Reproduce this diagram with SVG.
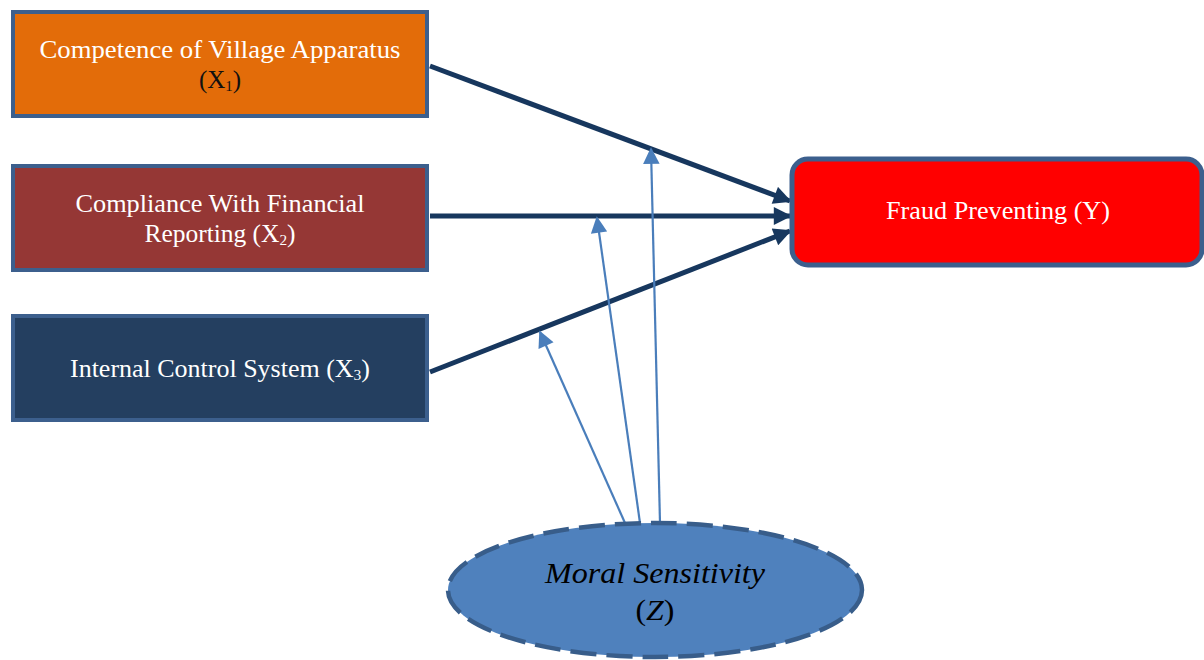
<svg xmlns="http://www.w3.org/2000/svg" width="1204" height="660" viewBox="0 0 1204 660">
<style>
.box{stroke:#3c5f8d;stroke-width:4}
.t{font-family:"Liberation Serif","Times New Roman",serif;font-size:25px;fill:#ffffff;text-anchor:middle}
.sub{font-size:15px}
.main{stroke:#17375e;stroke-width:5;fill:none}
.mod{stroke:#4a7ebb;stroke-width:2.2;fill:none}
</style>
<defs>
<marker id="ah" viewBox="0 0 10 10" refX="9" refY="5" markerWidth="4" markerHeight="3.6" markerUnits="strokeWidth" orient="auto">
<path d="M0,0 L10,5 L0,10 z" fill="#17375e"/>
</marker>
<marker id="ahm" viewBox="0 0 10 10" refX="9" refY="5" markerWidth="8" markerHeight="7.5" markerUnits="strokeWidth" orient="auto">
<path d="M0,0 L10,5 L0,10 z" fill="#4a7ebb"/>
</marker>
</defs>
<rect width="1204" height="660" fill="#ffffff"/>
<g id="connectors">
<line class="main" x1="430" y1="66" x2="790" y2="201" marker-end="url(#ah)"/>
<line class="main" x1="430" y1="216" x2="790" y2="216" marker-end="url(#ah)"/>
<line class="main" x1="430" y1="372" x2="790" y2="231" marker-end="url(#ah)"/>
<line class="mod" x1="660" y1="523" x2="651" y2="149" marker-end="url(#ahm)"/>
<line class="mod" x1="640" y1="523" x2="597" y2="218" marker-end="url(#ahm)"/>
<line class="mod" x1="625" y1="523" x2="540" y2="332" marker-end="url(#ahm)"/>
</g>
<g id="x1">
<rect class="box" x="13" y="12" width="414" height="104" fill="#e36c09"/>
<text class="t" x="220" y="58" textLength="361" lengthAdjust="spacingAndGlyphs">Competence of Village Apparatus</text>
<text class="t" x="220" y="88" style="fill:#111111">(X<tspan class="sub" dy="3">1</tspan><tspan dy="-3">)</tspan></text>
</g>
<g id="x2">
<rect class="box" x="13" y="166" width="414" height="104" fill="#953735"/>
<text class="t" x="220" y="212" textLength="289" lengthAdjust="spacingAndGlyphs">Compliance With Financial</text>
<text class="t" x="220" y="242" textLength="151" lengthAdjust="spacingAndGlyphs">Reporting (X<tspan class="sub" dy="3">2</tspan><tspan dy="-3">)</tspan></text>
</g>
<g id="x3">
<rect class="box" x="13" y="316" width="414" height="104" fill="#243f60"/>
<text class="t" x="220" y="377" textLength="300" lengthAdjust="spacingAndGlyphs">Internal Control System (X<tspan class="sub" dy="3">3</tspan><tspan dy="-3">)</tspan></text>
</g>
<g id="y">
<rect x="792" y="159" width="410" height="106" rx="16" ry="16" fill="#ff0000" stroke="#3c5f8d" stroke-width="5"/>
<text class="t" x="998" y="219" textLength="224" lengthAdjust="spacingAndGlyphs">Fraud Preventing (Y)</text>
</g>
<g id="z">
<ellipse cx="655" cy="590" rx="207" ry="67" fill="#4f81bd" stroke="#385d8a" stroke-width="4.5" stroke-dasharray="26 10"/>
<text x="655" y="583" font-family="Liberation Serif,Times New Roman,serif" font-size="29" font-style="italic" fill="#000000" text-anchor="middle" textLength="220" lengthAdjust="spacingAndGlyphs">Moral Sensitivity</text>
<text x="655" y="620" font-family="Liberation Serif,Times New Roman,serif" font-size="29" fill="#000000" text-anchor="middle" textLength="39" lengthAdjust="spacingAndGlyphs">(<tspan font-style="italic">Z</tspan>)</text>
</g>
</svg>
